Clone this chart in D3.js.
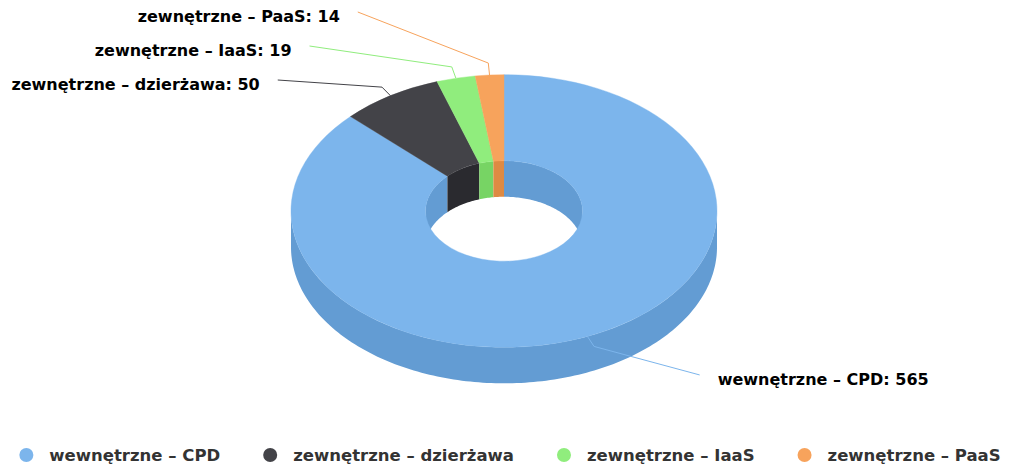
<!DOCTYPE html>
<html>
<head>
<meta charset="utf-8">
<script src="https://cdn.jsdelivr.net/npm/d3@7"></script>
<style>
  html, body { margin: 0; padding: 0; background: #fff; }
  svg { display: block; font-family: "DejaVu Sans", sans-serif; }
</style>
</head>
<body>
<svg id="chart" width="1020" height="468"></svg>
<script>
// data
const categories = ["wewnętrzne – CPD", "zewnętrzne – dzierżawa", "zewnętrzne – IaaS", "zewnętrzne – PaaS"];
const values = [565, 50, 19, 14];
const colors = ["#7cb5ec", "#434348", "#90ed7d", "#f7a35c"];

const cx = 504, cy = 211;
const outerR = 213, innerR = 78.5;
const tilt = 0.64;      // vertical squash of the 3d view
const depth = 36;       // thickness of the donut
const labelA = 272, labelB = 236;   // ellipse the label ends sit on

const svg = d3.select("#chart");

const slices = d3.pie().sort(null).value(d => d.value)(
    categories.map((c, i) => ({ name: c, value: values[i], color: colors[i] }))
);

// point on the tilted donut: angle clockwise from 12 o'clock
function proj(a, r, h) {
    return [cx + r * Math.sin(a), cy - r * tilt * Math.cos(a) + h];
}

// side faces are a bit darker than the top
function shade(c) {
    const col = d3.rgb(c);
    return d3.rgb(col.r - 25, col.g - 25, col.b - 25).toString();
}

function wallPath(a0, a1, r) {
    const n = Math.max(2, Math.ceil((a1 - a0) / 0.02));
    const angles = d3.range(n + 1).map(i => a0 + (a1 - a0) * i / n);
    const top = angles.map(a => proj(a, r, 0));
    const bot = angles.slice().reverse().map(a => proj(a, r, depth));
    return "M" + top.concat(bot).map(p => p.join(",")).join("L") + "Z";
}

function clip(a0, a1, ranges) {
    const out = [];
    ranges.forEach(([s, e]) => {
        const lo = Math.max(a0, s), hi = Math.min(a1, e);
        if (hi > lo) out.push([lo, hi]);
    });
    return out;
}

const farHalf = [[0, Math.PI / 2], [Math.PI * 1.5, Math.PI * 2]];
const nearHalf = [[Math.PI / 2, Math.PI * 1.5]];

// inner walls seen through the hole
const gInner = svg.append("g");
slices.forEach(s => {
    clip(s.startAngle, s.endAngle, farHalf).forEach(([a, b]) => {
        gInner.append("path").attr("d", wallPath(a, b, innerR)).attr("fill", shade(s.data.color));
    });
});

// outer side walls
const gOuter = svg.append("g");
slices.forEach(s => {
    clip(s.startAngle, s.endAngle, nearHalf).forEach(([a, b]) => {
        gOuter.append("path").attr("d", wallPath(a, b, outerR)).attr("fill", shade(s.data.color));
    });
});

// top face
const arc = d3.arc().innerRadius(innerR).outerRadius(outerR);
svg.append("g")
    .attr("transform", `translate(${cx},${cy}) scale(1,${tilt})`)
    .selectAll("path")
    .data(slices)
    .join("path")
    .attr("d", arc)
    .attr("fill", d => d.data.color)
    .attr("stroke", d => d.data.color)
    .attr("stroke-width", 0.5);

// data labels
const labels = slices.map(s => {
    const mid = (s.startAngle + s.endAngle) / 2;
    return { s, mid, left: mid > Math.PI, y: cy - labelB * 0.755 * Math.cos(mid) };
});
// left labels are crowded near the top, so stack them
labels.filter(d => d.left).sort((a, b) => a.y - b.y).forEach((d, i) => { d.y = 12 + i * 34; });

const gLab = svg.append("g");
labels.forEach(d => {
    const p = proj(d.mid, outerR, 0);
    const dir = [Math.sin(d.mid), -tilt * Math.cos(d.mid)];
    const len = Math.hypot(dir[0], dir[1]);
    const b = [p[0] + 12 * dir[0] / len, p[1] + 12 * dir[1] / len];
    const t = (d.y - cy) / labelB;
    const dx = labelA * Math.sqrt(Math.max(0, 1 - t * t));
    const lx = d.left ? cx - dx : cx + dx;
    gLab.append("path")
        .attr("d", `M${lx},${d.y}L${b[0]},${b[1]}L${p[0]},${p[1]}`)
        .attr("fill", "none")
        .attr("stroke", d.s.data.color)
        .attr("stroke-width", 1)
        .attr("stroke-linejoin", "round");
    gLab.append("text")
        .attr("x", d.left ? lx - 18 : lx + 18)
        .attr("y", d.y + 10)
        .attr("text-anchor", d.left ? "end" : "start")
        .attr("font-size", 16)
        .attr("font-weight", "bold")
        .attr("fill", "#000")
        .attr("stroke", "#fff")
        .attr("stroke-width", 2)
        .attr("paint-order", "stroke")
        .text(`${d.s.data.name}: ${d.s.data.value}`);
});

// legend
const legend = svg.append("g");
const items = legend.selectAll("g")
    .data(slices)
    .join("g");
items.append("circle").attr("r", 7).attr("cy", 455).attr("fill", d => d.data.color);
items.append("text")
    .attr("x", 23)
    .attr("y", 461)
    .attr("font-size", 16.5)
    .attr("font-weight", "bold")
    .attr("fill", "#333")
    .text(d => d.data.name);
const gap = 50;
let x = 0;
const pos = [];
items.each(function () {
    pos.push(x);
    x += 23 + d3.select(this).select("text").node().getComputedTextLength() + gap;
});
const total = x - gap + 7;
const start = 510 - total / 2 + 7;
items.attr("transform", (d, i) => `translate(${start + pos[i]},0)`);
</script>
</body>
</html>
